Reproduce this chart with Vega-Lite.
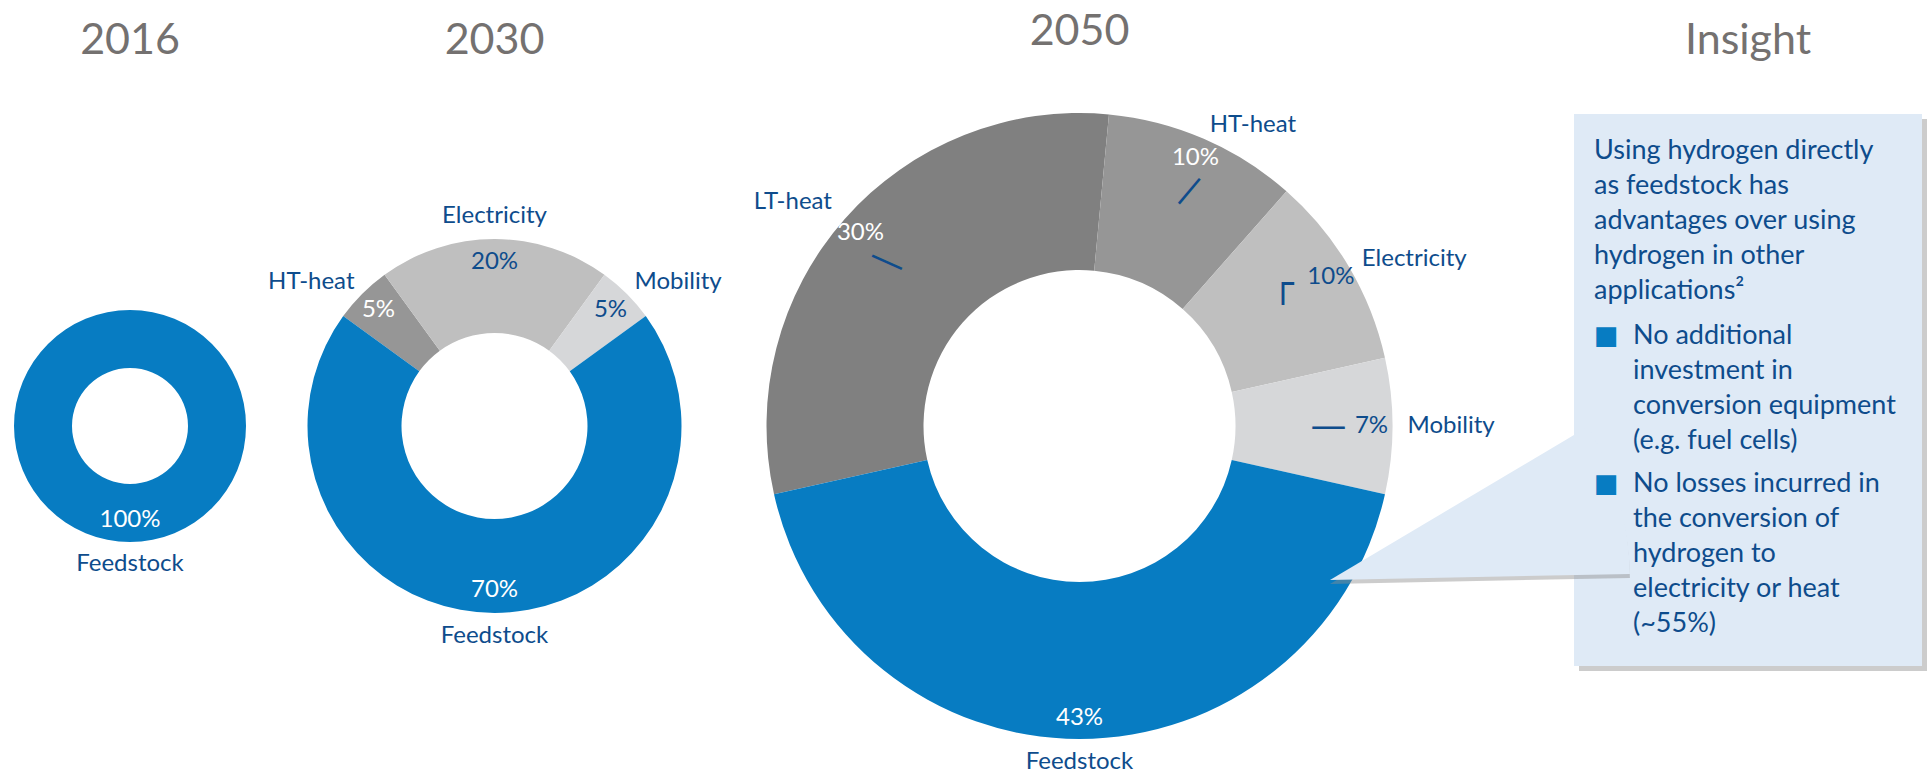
{
  "$schema": "https://vega.github.io/schema/vega-lite/v6.json",
  "autosize": {"type": "pad"},
  "padding": {"left": 0, "top": 11, "right": 5, "bottom": 0},
  "bounds": "flush",
  "spacing": 144,
  "resolve": {"scale": {"theta": "independent"}},
  "config": {
    "view": {"stroke": null},
    "font": "Lato",
    "title": {"font": "Lato", "fontSize": 43, "fontWeight": "normal", "color": "#747170", "offset": 51, "baseline": "alphabetic", "anchor": "middle"},
    "text": {"font": "Lato", "fontSize": 24, "baseline": "middle"}
  },
  "datasets": {
    "shares": [
      {"year": 2016, "use": "Feedstock", "order": 5, "share": 1.0},
      {"year": 2030, "use": "HT-heat", "order": 2, "share": 0.05},
      {"year": 2030, "use": "Electricity", "order": 3, "share": 0.20},
      {"year": 2030, "use": "Mobility", "order": 4, "share": 0.05},
      {"year": 2030, "use": "Feedstock", "order": 5, "share": 0.70},
      {"year": 2050, "use": "LT-heat", "order": 1, "share": 0.30},
      {"year": 2050, "use": "HT-heat", "order": 2, "share": 0.10},
      {"year": 2050, "use": "Electricity", "order": 3, "share": 0.10},
      {"year": 2050, "use": "Mobility", "order": 4, "share": 0.07},
      {"year": 2050, "use": "Feedstock", "order": 5, "share": 0.43}
    ],
    "insight": [
      {"line": 0, "indent": 0, "kind": "text", "text": "Using hydrogen directly"},
      {"line": 1, "indent": 0, "kind": "text", "text": "as feedstock has"},
      {"line": 2, "indent": 0, "kind": "text", "text": "advantages over using"},
      {"line": 3, "indent": 0, "kind": "text", "text": "hydrogen in other"},
      {"line": 4, "indent": 0, "kind": "text", "text": "applications²"},
      {"line": 5, "indent": 0, "kind": "bullet", "text": "■"},
      {"line": 5, "indent": 1, "kind": "text", "text": "No additional"},
      {"line": 6, "indent": 1, "kind": "text", "text": "investment in"},
      {"line": 7, "indent": 1, "kind": "text", "text": "conversion equipment"},
      {"line": 8, "indent": 1, "kind": "text", "text": "(e.g. fuel cells)"},
      {"line": 9, "indent": 0, "kind": "bullet", "text": "■"},
      {"line": 9, "indent": 1, "kind": "text", "text": "No losses incurred in"},
      {"line": 10, "indent": 1, "kind": "text", "text": "the conversion of"},
      {"line": 11, "indent": 1, "kind": "text", "text": "hydrogen to"},
      {"line": 12, "indent": 1, "kind": "text", "text": "electricity or heat"},
      {"line": 13, "indent": 1, "kind": "text", "text": "(~55%)"}
    ]
  },
  "hconcat": [
    {
      "width": 260, "height": 624,
      "title": "2016",
      "data": {"name": "shares"},
      "transform": [{"filter": "datum.year === 2016"}],
      "encoding": {
        "theta": {"field": "share", "type": "quantitative", "stack": true, "scale": {"range": [0, 6.2832]}},
        "order": {"field": "order", "type": "quantitative"},
        "detail": {"field": "use", "type": "nominal"}
      },
      "layer": [
        {"mark": {"type": "arc", "outerRadius": 116, "innerRadius": 58},
         "encoding": {"color": {"field": "use", "type": "nominal", "legend": null,
           "scale": {"domain": ["LT-heat", "HT-heat", "Electricity", "Mobility", "Feedstock"], "range": ["#808080", "#969696", "#bfbfbf", "#d6d7d9", "#077cc2"]}}}},
        {"mark": {"type": "text", "radius": 94},
         "encoding": {"text": {"field": "share", "type": "quantitative", "format": ".0%"},
           "color": {"condition": {"test": "datum.use === 'Electricity' || datum.use === 'Mobility'", "value": "#0e4c8c"}, "value": "#ffffff"}}},
        {"mark": {"type": "text", "radius": 138, "align": "center", "color": "#0e4c8c"},
         "encoding": {"text": {"field": "use", "type": "nominal"}}}
      ]
    },
    {
      "width": 181, "height": 624,
      "title": "2030",
      "data": {"name": "shares"},
      "transform": [{"filter": "datum.year === 2030"}],
      "encoding": {
        "theta": {"field": "share", "type": "quantitative", "stack": true, "scale": {"range": [-0.9425, 5.3407]}},
        "order": {"field": "order", "type": "quantitative"},
        "detail": {"field": "use", "type": "nominal"}
      },
      "layer": [
        {"mark": {"type": "arc", "outerRadius": 187, "innerRadius": 93},
         "encoding": {"color": {"field": "use", "type": "nominal", "legend": null}}},
        {"mark": {"type": "text", "radius": 164},
         "encoding": {"text": {"field": "share", "type": "quantitative", "format": ".0%"},
           "color": {"condition": {"test": "datum.use === 'Electricity' || datum.use === 'Mobility'", "value": "#0e4c8c"}, "value": "#ffffff"}}},
        {"mark": {"type": "text", "radius": 210, "align": "center", "color": "#0e4c8c"},
         "encoding": {"text": {"condition": {"test": "datum.use === 'Electricity' || datum.use === 'Feedstock'", "field": "use", "type": "nominal"}, "value": ""}}},
        {"mark": {"type": "text", "radius": 198, "align": "right", "dy": -4, "color": "#0e4c8c"},
         "encoding": {"text": {"condition": {"test": "datum.use === 'HT-heat'", "field": "use", "type": "nominal"}, "value": ""}}},
        {"mark": {"type": "text", "radius": 198, "align": "left", "dy": -4, "color": "#0e4c8c"},
         "encoding": {"text": {"condition": {"test": "datum.use === 'Mobility'", "field": "use", "type": "nominal"}, "value": ""}}}
      ]
    },
    {
      "width": 701, "height": 624,
      "title": "2050",
      "data": {"name": "shares"},
      "transform": [{"filter": "datum.year === 2050"}],
      "encoding": {
        "theta": {"field": "share", "type": "quantitative", "stack": true, "scale": {"range": [-1.7907, 4.4925]}},
        "order": {"field": "order", "type": "quantitative"},
        "detail": {"field": "use", "type": "nominal"}
      },
      "layer": [
        {"mark": {"type": "arc", "outerRadius": 313, "innerRadius": 156},
         "encoding": {"color": {"field": "use", "type": "nominal", "legend": null}}},
        {"mark": {"type": "text", "radius": 252, "align": "center", "font": "DejaVu Sans", "fontSize": 36, "angle": 24, "dx": -2, "dy": 3, "color": "#0e4c8c"},
         "encoding": {"text": {"condition": {"test": "datum.use === 'LT-heat'", "value": "—"}, "value": ""}}},
        {"mark": {"type": "text", "radius": 252, "align": "center", "font": "DejaVu Sans", "fontSize": 36, "angle": -50, "dx": 9, "dy": 4, "color": "#0e4c8c"},
         "encoding": {"text": {"condition": {"test": "datum.use === 'HT-heat'", "value": "—"}, "value": ""}}},
        {"mark": {"type": "text", "radius": 247, "align": "center", "font": "DejaVu Sans", "fontSize": 36, "dx": -9, "dy": -15, "color": "#0e4c8c"},
         "encoding": {"text": {"condition": {"test": "datum.use === 'Electricity'", "value": "┌"}, "value": ""}}},
        {"mark": {"type": "text", "radius": 254, "align": "center", "font": "DejaVu Sans", "fontSize": 36, "dx": -5, "dy": 1, "color": "#0e4c8c"},
         "encoding": {"text": {"condition": {"test": "datum.use === 'Mobility'", "value": "—"}, "value": ""}}},
        {"mark": {"type": "text", "radius": 292},
         "encoding": {"text": {"field": "share", "type": "quantitative", "format": ".0%"},
           "color": {"condition": {"test": "datum.use === 'Electricity' || datum.use === 'Mobility'", "value": "#0e4c8c"}, "value": "#ffffff"}}},
        {"mark": {"type": "text", "radius": 336, "align": "center", "color": "#0e4c8c"},
         "encoding": {"text": {"condition": {"test": "datum.use === 'Feedstock'", "field": "use", "type": "nominal"}, "value": ""}}},
        {"mark": {"type": "text", "radius": 330, "align": "right", "dy": -6, "color": "#0e4c8c"},
         "encoding": {"text": {"condition": {"test": "datum.use === 'LT-heat'", "field": "use", "type": "nominal"}, "value": ""}}},
        {"mark": {"type": "text", "radius": 328, "align": "left", "color": "#0e4c8c"},
         "encoding": {"text": {"condition": {"test": "datum.use === 'HT-heat' || datum.use === 'Electricity' || datum.use === 'Mobility'", "field": "use", "type": "nominal"}, "value": ""}}}
      ]
    },
    {
      "width": 348, "height": 552,
      "title": "Insight",
      "view": {"fill": "#dfeaf6", "stroke": null},
      "layer": [
        {"data": {"values": [{}]},
         "mark": {"type": "arc", "x": -244, "y": 470, "radius": 300, "theta": 1.0345, "theta2": 1.5504, "fill": "#8f8f8f", "opacity": 0.45},
         "encoding": {}},
        {"data": {"values": [{}]},
         "mark": {"type": "arc", "x": -244, "y": 466, "radius": 300, "theta": 1.0345, "theta2": 1.5504, "fill": "#dfeaf6"},
         "encoding": {}},
        {"data": {"values": [{}]},
         "mark": {"type": "rect", "x": 348, "x2": 353, "y": 5, "y2": 557, "fill": "#8f8f8f", "opacity": 0.45},
         "encoding": {}},
        {"data": {"values": [{}]},
         "mark": {"type": "rect", "x": 5, "x2": 348, "y": 552, "y2": 557, "fill": "#8f8f8f", "opacity": 0.45},
         "encoding": {}},
        {"data": {"name": "insight"},
         "transform": [{"filter": "datum.kind === 'text'"}],
         "mark": {"type": "text", "align": "left", "baseline": "middle", "fontSize": 27, "color": "#0e4c8c"},
         "encoding": {
           "x": {"field": "indent", "type": "quantitative", "scale": {"domain": [0, 1], "range": [20, 59]}, "axis": null},
           "y": {"field": "line", "type": "quantitative", "scale": {"domain": [0, 4, 5, 8, 9, 13], "range": [37, 177, 222, 327, 370, 510]}, "axis": null},
           "text": {"field": "text", "type": "nominal"}
         }},
        {"data": {"name": "insight"},
         "transform": [{"filter": "datum.kind === 'bullet'"}],
         "mark": {"type": "text", "align": "left", "baseline": "middle", "font": "DejaVu Sans", "fontSize": 26, "color": "#077cc2"},
         "encoding": {
           "x": {"field": "indent", "type": "quantitative", "scale": {"domain": [0, 1], "range": [20, 59]}, "axis": null},
           "y": {"field": "line", "type": "quantitative", "scale": {"domain": [0, 4, 5, 8, 9, 13], "range": [37, 177, 222, 327, 370, 510]}, "axis": null},
           "text": {"field": "text", "type": "nominal"}
         }}
      ]
    }
  ]
}
